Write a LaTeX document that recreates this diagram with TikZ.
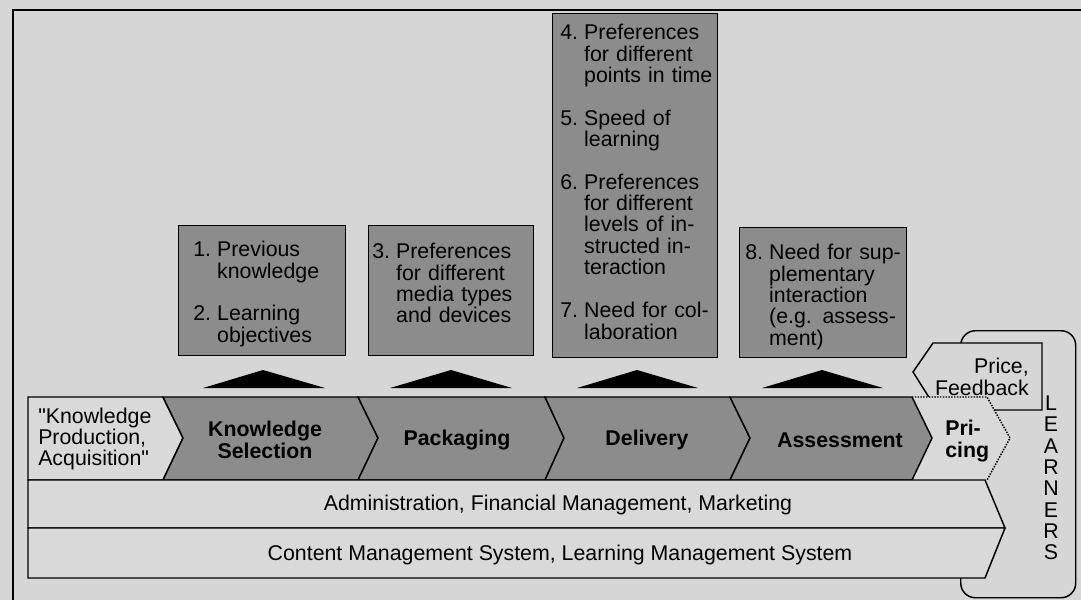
\documentclass[tikz,border=0pt]{standalone}
\usepackage{fontspec}
\setmainfont{Liberation Sans}[Ligatures=TeXOff]
\setlength\parindent{0pt}
\setlength\parskip{0pt}
\newcommand\fsz{\fontsize{16}{16}\selectfont}
\newcommand\ind{\hspace*{1.12em}}
\newcommand\num[1]{\makebox[1.12em][l]{#1}}
\definecolor{bgc}{gray}{0.84}
\definecolor{dkc}{gray}{0.55}
\definecolor{ltc}{gray}{0.85}
\begin{document}
\begin{tikzpicture}[x=0.75pt,y=-0.75pt, line join=miter,
  every node/.style={inner sep=0pt, font=\fsz},
  dkshape/.style={fill=dkc, draw=black, line width=1.1pt},
  ltshape/.style={fill=ltc, draw=black, line width=1.1pt},
  itembox/.style={draw=black, fill=dkc, line width=1.1pt, anchor=north west, inner sep=0pt},
  itemtext/.style={anchor=north west, text width=122pt, align=left},
  tri/.style={fill=black},
  lbl/.style={font=\fsz\bfseries, align=center},
  plain/.style={align=center}
]
% background and frame
\fill[bgc] (0,0) rectangle (1081,600);
\useasboundingbox (0,0) rectangle (1081,600);
\draw[line width=1.3pt] (13,600) -- (13,10) -- (1081,10);

% learners rounded box
\node[draw=black, fill=bgc, line width=1.1pt, rounded corners=11pt, anchor=north west,
      minimum width=86.25pt, minimum height=200.25pt] (lrn) at (960,330) {};
\node[plain] (lrntext) at (1051,478) {L\\E\\A\\R\\N\\E\\R\\S};

% price feedback pentagon
\draw[fill=bgc, line width=1.1pt] (913,372) -- (933,343) -- (1042,343) -- (1042,410) -- (937,410) -- cycle;
\node[align=right, anchor=east] (price) at (1029,377) {Price,\\Feedback};

% item boxes
\node[itembox, minimum width=125.25pt, minimum height=97.5pt] (b1) at (178,225) {};
\node[itembox, minimum width=123.75pt, minimum height=97.5pt] (b2) at (368,225) {};
\node[itembox, minimum width=123.75pt, minimum height=258pt] (b3) at (552,13) {};
\node[itembox, minimum width=125.25pt, minimum height=97.5pt] (b4) at (739,227) {};

\node[itemtext] (t1) at (193,241) {\num{1.}Previous\\\ind knowledge\\[16pt]\num{2.}Learning\\\ind objectives};
\node[itemtext] (t2) at (372,243) {\num{3.}Preferences\\\ind for different\\\ind media types\\\ind and devices};
\node[itemtext] (t3) at (560,24) {\num{4.}Preferences\\\ind for different\\\ind points in time\\[16pt]\num{5.}Speed of\\\ind learning\\[16pt]\num{6.}Preferences\\\ind for different\\\ind levels of in-\\\ind structed in-\\\ind teraction\\[16.5pt]\num{7.}Need for col-\\\ind laboration};
\node[itemtext] (t4) at (745,244) {\num{8.}Need for sup-\\\ind plementary\\\ind interaction\\\ind (e.g. assess-\\\ind ment)};

% triangles
\fill[tri] (203,388) -- (263,370) -- (325,388) -- cycle;
\fill[tri] (390,388) -- (451,370) -- (512,388) -- cycle;
\fill[tri] (577,388) -- (637,370) -- (698,388) -- cycle;
\fill[tri] (762,388) -- (822,370) -- (883,388) -- cycle;

% pricing chevron (dotted)
\fill[ltc] (912,397) -- (987,397) -- (1010,438) -- (987,480) -- (912,480) -- (932,438) -- cycle;
\draw[line width=1.1pt, densely dotted] (912,397) -- (987,397) -- (1010,438) -- (987,480);

% value chain chevrons
\draw[ltshape] (28,397) -- (163,397) -- (183,438) -- (163,480) -- (28,480) -- cycle;
\draw[dkshape] (163,397) -- (358,397) -- (378,438) -- (358,480) -- (163,480) -- (183,438) -- cycle;
\draw[dkshape] (358,397) -- (545,397) -- (564,438) -- (545,480) -- (358,480) -- (378,438) -- cycle;
\draw[dkshape] (545,397) -- (730,397) -- (750,438) -- (730,480) -- (545,480) -- (564,438) -- cycle;
\draw[dkshape] (730,397) -- (912,397) -- (932,438) -- (912,480) -- (730,480) -- (750,438) -- cycle;

% support bars
\draw[ltshape] (28,480) -- (985,480) -- (1005,528) -- (28,528) -- cycle;
\draw[ltshape] (28,528) -- (1005,528) -- (985,578) -- (28,578) -- cycle;

% labels
\node[align=left, anchor=west] (kp) at (38,439) {"Knowledge\\Production,\\Acquisition"};
\node[lbl] (ks) at (265,440) {Knowledge\\Selection};
\node[lbl] (pk) at (457,440) {Packaging};
\node[lbl] (dl) at (647,440) {Delivery};
\node[lbl] (as) at (840,440) {Assessment};
\node[lbl, align=left, anchor=west] (pr) at (945,441) {Pri-\\cing};
\node[plain] (adm) at (558,505) {Administration, Financial Management, Marketing};
\node[plain] (cms) at (560,555) {Content Management System, Learning Management System};
\end{tikzpicture}
\end{document}
